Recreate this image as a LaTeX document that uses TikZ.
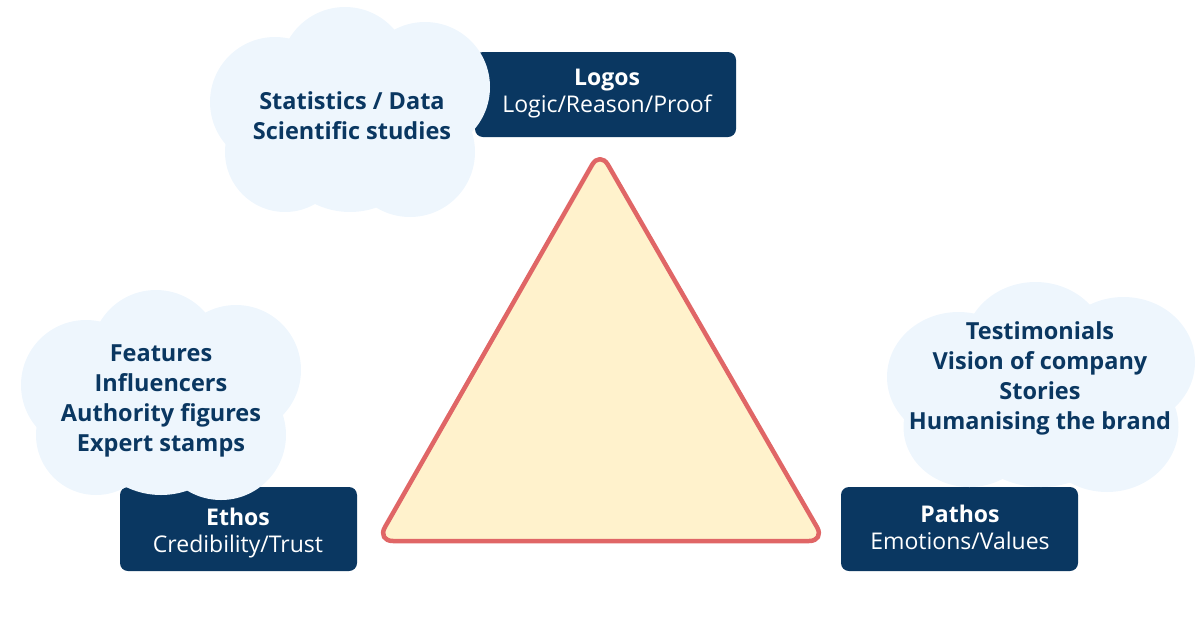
\documentclass[tikz,border=0pt]{standalone}
\usepackage{fontspec}
\setmainfont{Open Sans}
\usetikzlibrary{positioning}
\definecolor{navy}{HTML}{0A3761}
\definecolor{cloudfill}{HTML}{EEF6FD}
\definecolor{tri}{HTML}{E06666}
\definecolor{trifill}{HTML}{FFF2CC}
\tikzset{
  labelbox/.style={fill=navy, rounded corners=8pt, inner sep=0pt},
  boxtext/.style={text=white, align=center, inner sep=0pt, font=\fontsize{23}{27}\selectfont},
  cloudtext/.style={text=navy, align=center, font=\bfseries\fontsize{23.5}{30}\selectfont},
  cloudpart/.style={fill=cloudfill},
}
\newcommand{\mycloud}{%
  \fill[cloudpart] (-5,-40) circle[radius=65pt];
  \fill[cloudpart] (75,-25) circle[radius=65pt];
  \fill[cloudpart] (-75,-10) circle[radius=65pt];
  \fill[cloudpart] (-65,40) circle[radius=60pt];
  \fill[cloudpart] (60,40) circle[radius=65pt];
  \fill[cloudpart] (0,20) circle[radius=80pt];
}
\begin{document}
\begin{tikzpicture}[x=1pt,y=-1pt]
\useasboundingbox (0,0) rectangle (1200,630);
% triangle
\draw[tri, line width=4.5pt, fill=trifill, rounded corners=16pt, line join=round]
  (600,151) -- (825,541) -- (377,541) -- cycle;
% boxes
\node[labelbox, minimum width=261pt, minimum height=85pt] (logos) at (605.5,94.5) {};
\node[labelbox, minimum width=237pt, minimum height=84pt] (ethos) at (238.5,529) {};
\node[labelbox, minimum width=237pt, minimum height=84pt] (pathos) at (959.5,529) {};
\node[boxtext] (logost) at (607,94) {\textbf{Logos}\\Logic/Reason/Proof};
\node[boxtext] (ethost) at (238,533) {\textbf{Ethos}\\Credibility/Trust};
\node[boxtext] (pathost) at (960,527) {\textbf{Pathos}\\Emotions/Values};
% clouds
\begin{scope}[shift={(350,112)}]\mycloud\end{scope}
\begin{scope}[shift={(161,395)}]\mycloud\end{scope}
\begin{scope}[shift={(1041,387)}, xscale=1.1]\mycloud\end{scope}
% cloud texts
\node[cloudtext] (logosc) at (352,116) {Statistics / Data\\Scientific studies};
\node[cloudtext] (ethosc) at (161,401) {Features\\Influencers\\Authority figures\\Expert stamps};
\node[cloudtext] (pathosc) at (1040,378) {Testimonials\\Vision of company\\Stories\\Humanising the brand};
\end{tikzpicture}
\end{document}
